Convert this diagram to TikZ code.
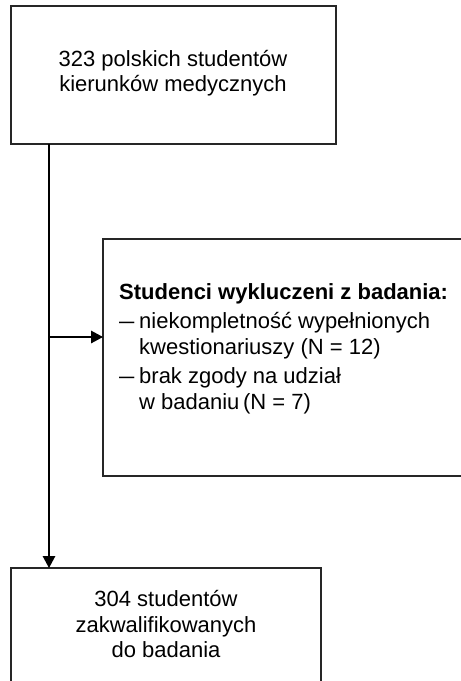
\documentclass[tikz,border=0pt]{standalone}
\usepackage{fontspec}
\setmainfont{Liberation Sans}
\usetikzlibrary{arrows.meta}
\begin{document}
\begin{tikzpicture}[x=1pt,y=-1pt,
  box/.style={draw=black!85, line width=1.2pt, rectangle, inner sep=0pt, outer sep=0pt},
  txt/.style={inner sep=0pt, anchor=base, font=\fontsize{22}{26}\selectfont},
  ltxt/.style={inner sep=0pt, anchor=base west, font=\fontsize{22}{26}\selectfont},
  flow/.style={line width=1.4pt, -{Triangle[length=12pt,width=12.5pt]}}]
\useasboundingbox (0,0) rectangle (461,681);
\clip (0,0) rectangle (461,681);
\fill[white] (0,0) rectangle (461,681);
% boxes
\node[box, minimum width=325pt, minimum height=138pt] (top) at (173.5,75) {};
\node[box, minimum width=387pt, minimum height=237pt] (excl) at (296.5,357.5) {};
\node[box, minimum width=310pt, minimum height=152pt] (bot) at (166,644) {};
% texts
\node[txt] (t1) at (173,66) {323 polskich studentów};
\node[txt] (t2) at (173,91) {kierunków medycznych};
\node[ltxt, font=\fontsize{22}{26}\selectfont\bfseries] (e1) at (119,299) {Studenci wykluczeni z badania:};
\node[ltxt] (d1) at (119,328) {\scalebox{1.25}[1]{–}};
\node[ltxt] (e2) at (139,328) {niekompletność wypełnionych};
\node[ltxt] (e3) at (139,354) {kwestionariuszy (N = 12)};
\node[ltxt] (d2) at (119,383) {\scalebox{1.25}[1]{–}};
\node[ltxt] (e4) at (139,383) {brak zgody na udział};
\node[ltxt] (e5) at (139,409) {w badaniu\,(N = 7)};
\node[txt] (b1) at (166,606) {304 studentów};
\node[txt] (b2) at (166,632) {zakwalifikowanych};
\node[txt] (b3) at (166,657) {do badania};
% connectors
\coordinate (s) at (49,144);
\coordinate (j) at (49,337);
\draw[flow] (s) -- (s |- bot.north);
\draw[flow] (j) -- (excl.west |- j);
\end{tikzpicture}
\end{document}
